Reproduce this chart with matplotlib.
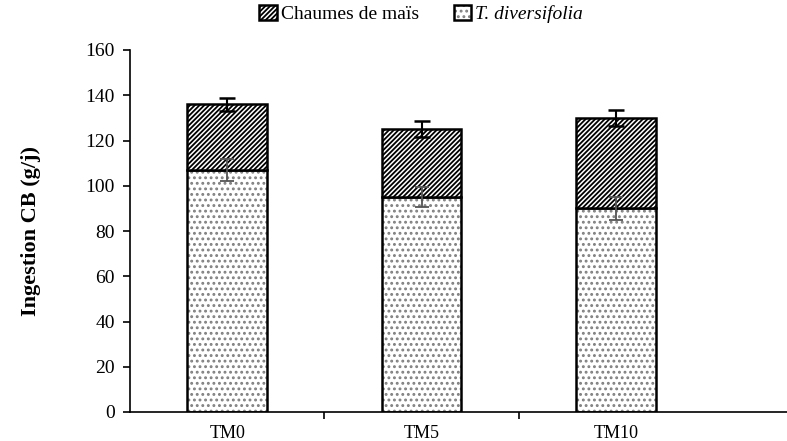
import matplotlib.pyplot as plt

plt.rcParams['font.family'] = ['Liberation Serif', 'DejaVu Serif']
plt.rcParams['hatch.linewidth'] = 1.3

traitements = ['TM0', 'TM5', 'TM10']
tithonia = [107, 95, 90]          # T. diversifolia (bas)
chaumes = [29, 30, 40]            # Chaumes de maïs (haut)
err_tithonia = [5, 4.5, 5]
err_total = [3, 3.5, 3.5]

x = list(range(len(traitements)))
total = [tithonia[i] + chaumes[i] for i in x]

fig = plt.figure(figsize=(7.87, 4.41), dpi=100)
ax = fig.add_axes([130 / 787, 29 / 441, 657 / 787, 362 / 441])

b1 = ax.bar(x, tithonia, width=0.41, color='white', edgecolor='black',
            linewidth=1.8, hatch='...', label='T. diversifolia', zorder=2)
for p in b1:
    p._hatch_color = (0.5, 0.5, 0.5, 1)
b2 = ax.bar(x, chaumes, width=0.41, bottom=tithonia, color='white',
            edgecolor='black', linewidth=1.8, hatch='///////',
            label='Chaumes de maïs', zorder=2)

ax.errorbar(x, tithonia, yerr=err_tithonia, fmt='none', ecolor='#555555',
            elinewidth=1.3, capsize=5, capthick=1.3, zorder=3)
ax.errorbar(x, total, yerr=err_total, fmt='none', ecolor='black',
            elinewidth=1.5, capsize=5.5, capthick=1.8, zorder=3)

ax.set_ylim(0, 160)
ax.set_yticks(range(0, 161, 20))
ax.set_xlim(-0.5, 2.88)
ax.set_xticks(x)
ax.set_xticklabels(traitements)
ax.set_xticks([0.5, 1.5], minor=True)
ax.tick_params(axis='x', which='major', length=0, labelsize=13, pad=9)
ax.tick_params(axis='x', which='minor', length=5, width=1.2, direction='out')
ax.tick_params(axis='y', length=5, width=1.2, labelsize=14, pad=6)

for s in ['top', 'right']:
    ax.spines[s].set_visible(False)
ax.spines['left'].set_linewidth(1.2)
ax.spines['bottom'].set_linewidth(1.2)

ax.set_ylabel('Ingestion CB (g/j)', fontsize=16, fontweight='bold', labelpad=32)

leg = ax.legend([b2, b1], ['Chaumes de maïs', 'T. diversifolia'], loc='center',
                bbox_to_anchor=(0.443, 1.1), ncol=2, frameon=False, fontsize=14,
                handlelength=0.9, handleheight=0.8, handletextpad=0.2,
                columnspacing=1.8, borderpad=0)
leg.get_texts()[1].set_fontstyle('italic')

fig.savefig('out.png', dpi=100)
